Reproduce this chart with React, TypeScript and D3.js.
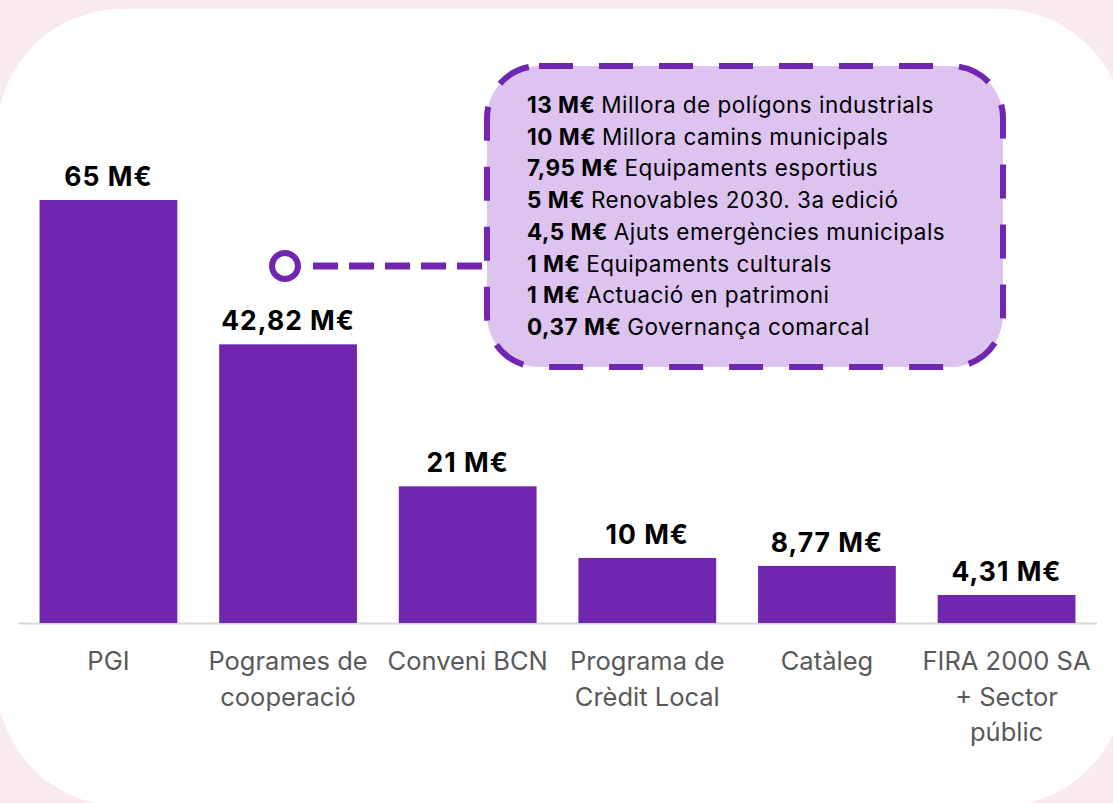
import React, { useEffect, useRef } from "react";
import * as d3 from "d3";

// categories (multi-line labels split by "|")
const categories = ["PGI", "Pogrames de|cooperació", "Conveni BCN", "Programa de|Crèdit Local", "Catàleg", "FIRA 2000 SA|+ Sector|públic"];
const values = [65, 42.82, 21, 10, 8.77, 4.31];
const valueLabels = ["65 M€", "42,82 M€", "21 M€", "10 M€", "8,77 M€", "4,31 M€"];

// callout breakdown of "Pogrames de cooperació"
const detailAmounts = ["13 M€", "10 M€", "7,95 M€", "5 M€", "4,5 M€", "1 M€", "1 M€", "0,37 M€"];
const detailNames = [
  "Millora de polígons industrials",
  "Millora camins municipals",
  "Equipaments esportius",
  "Renovables 2030. 3a edició",
  "Ajuts emergències municipals",
  "Equipaments culturals",
  "Actuació en patrimoni",
  "Governança comarcal",
];

const W = 1113;
const H = 803;
const PURPLE = "#7126AF";
const FONT = "Inter, 'Noto Sans', sans-serif";

export default function App() {
  const ref = useRef<SVGSVGElement>(null);

  useEffect(() => {
    const svg = d3.select(ref.current);
    svg.selectAll("*").remove();

    // background
    svg.append("rect").attr("width", W).attr("height", H).attr("fill", "#F9EBED");
    svg.append("rect")
      .attr("x", -3).attr("y", 9)
      .attr("width", 1128).attr("height", 797)
      .attr("rx", 125).attr("ry", 125)
      .attr("fill", "#fff");

    const margin = { left: 18, right: 16 };
    const baseline = 623;

    const x = d3.scaleBand()
      .domain(categories)
      .range([margin.left, W - margin.right])
      .paddingInner(0.233)
      .paddingOuter(0.12);

    const y = d3.scaleLinear()
      .domain([0, 65])
      .range([baseline, 200]);

    // axis line
    svg.append("line")
      .attr("x1", 18).attr("x2", 1097)
      .attr("y1", baseline + 0.5).attr("y2", baseline + 0.5)
      .attr("stroke", "#D9D9D9").attr("stroke-width", 2);

    const g = svg.append("g");

    g.selectAll("rect.bar")
      .data(values)
      .join("rect")
      .attr("class", "bar")
      .attr("x", (d, i) => x(categories[i])!)
      .attr("y", d => y(d))
      .attr("width", x.bandwidth())
      .attr("height", d => baseline - y(d))
      .attr("fill", PURPLE);

    g.selectAll("text.val")
      .data(values)
      .join("text")
      .attr("class", "val")
      .attr("x", (d, i) => x(categories[i])! + x.bandwidth() / 2)
      .attr("y", d => y(d) - 14)
      .attr("text-anchor", "middle")
      .attr("font-family", FONT)
      .attr("font-weight", 700)
      .attr("font-size", 26.5)
      .attr("letter-spacing", 1)
      .attr("fill", "#000")
      .text((d, i) => valueLabels[i]);

    // category labels
    categories.forEach((c, i) => {
      const t = svg.append("text")
        .attr("x", x(c)! + x.bandwidth() / 2)
        .attr("y", 670)
        .attr("text-anchor", "middle")
        .attr("font-family", FONT)
        .attr("font-size", 25.5)
        .attr("fill", "#595959");
      c.split("|").forEach((line, j) => {
        t.append("tspan")
          .attr("x", x(c)! + x.bandwidth() / 2)
          .attr("dy", j === 0 ? 0 : 35.5)
          .text(line);
      });
    });

    // connector from bar 2 to callout
    const cy = 266;
    svg.append("line")
      .attr("x1", 313).attr("x2", 486)
      .attr("y1", cy).attr("y2", cy)
      .attr("stroke", PURPLE).attr("stroke-width", 7)
      .attr("stroke-dasharray", "25 11");
    svg.append("circle")
      .attr("cx", 285).attr("cy", cy).attr("r", 13)
      .attr("fill", "#fff")
      .attr("stroke", PURPLE).attr("stroke-width", 6);

    // callout box
    svg.append("rect")
      .attr("x", 487).attr("y", 66)
      .attr("width", 516).attr("height", 301)
      .attr("rx", 52).attr("ry", 52)
      .attr("fill", "#DCC3F0")
      .attr("stroke", PURPLE).attr("stroke-width", 6)
      .attr("stroke-dasharray", "34 26");

    const lines = svg.append("g")
      .attr("font-family", FONT)
      .attr("font-size", 22.5)
      .attr("letter-spacing", 0.5)
      .attr("fill", "#000");
    detailAmounts.forEach((a, i) => {
      const t = lines.append("text")
        .attr("x", 527)
        .attr("y", 113 + i * 31.7);
      t.append("tspan").attr("font-weight", 700).text(a + " ");
      t.append("tspan").text(detailNames[i]);
    });
  }, []);

  return (
    <svg
      ref={ref}
      width={W}
      height={H}
      style={{ position: "absolute", left: 0, top: 0 }}
    />
  );
}
